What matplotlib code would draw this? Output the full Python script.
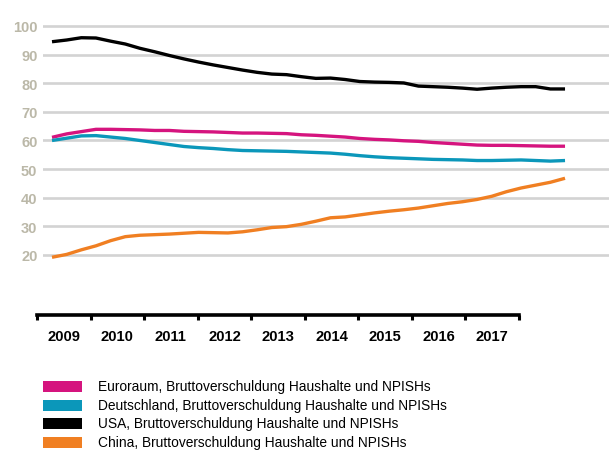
#!/usr/bin/env python3
"""Bruttoverschuldung Haushalte und NPISHs, quarterly lines 2009-2017."""
import matplotlib
matplotlib.use('Agg')
import matplotlib.pyplot as plt
from matplotlib.patches import Rectangle
import numpy as np

plt.rcParams['font.family'] = ['Liberation Sans', 'DejaVu Sans']

W, H = 609, 452

years = list(range(2009, 2018))
# quarterly observations, 2009Q1 .. 2017Q4
euroraum = [61.1, 62.3, 63.1, 63.9, 63.9, 63.8, 63.7, 63.5, 63.5, 63.2, 63.1, 63.0,
            62.8, 62.6, 62.6, 62.5, 62.4, 62.0, 61.8, 61.5, 61.2, 60.7, 60.4, 60.2,
            59.9, 59.7, 59.3, 59.0, 58.7, 58.4, 58.3, 58.3, 58.2, 58.1, 58.0, 58.0]
deutschland = [60.0, 60.8, 61.6, 61.7, 61.2, 60.7, 60.0, 59.3, 58.6, 57.9, 57.5, 57.2,
               56.8, 56.5, 56.4, 56.3, 56.2, 56.0, 55.8, 55.6, 55.2, 54.7, 54.3, 54.0,
               53.8, 53.6, 53.4, 53.3, 53.2, 53.0, 53.0, 53.1, 53.2, 53.0, 52.8, 53.0]
usa = [94.5, 95.1, 95.9, 95.8, 94.7, 93.7, 92.2, 91.0, 89.7, 88.5, 87.4, 86.4,
       85.5, 84.6, 83.8, 83.2, 83.0, 82.3, 81.7, 81.8, 81.3, 80.6, 80.4, 80.3,
       80.1, 79.0, 78.8, 78.6, 78.3, 77.9, 78.3, 78.6, 78.8, 78.8, 78.0, 78.0]
china = [19.2, 20.2, 21.8, 23.2, 25.0, 26.4, 26.9, 27.1, 27.3, 27.6, 27.9, 27.8,
         27.7, 28.1, 28.8, 29.6, 29.9, 30.7, 31.8, 33.0, 33.3, 34.0, 34.7, 35.3,
         35.8, 36.4, 37.2, 38.0, 38.6, 39.4, 40.5, 42.1, 43.4, 44.4, 45.4, 46.8]

labels = [
    'Euroraum, Bruttoverschuldung Haushalte und NPISHs',
    'Deutschland, Bruttoverschuldung Haushalte und NPISHs',
    'USA, Bruttoverschuldung Haushalte und NPISHs',
    'China, Bruttoverschuldung Haushalte und NPISHs',
]
colors = ['#d5147e', '#0b97ba', '#000000', '#f07f22']
series = [euroraum, deutschland, usa, china]
yticks = [20, 30, 40, 50, 60, 70, 80, 90, 100]

fig = plt.figure(figsize=(W / 100, H / 100), dpi=100)

# main plot area (pixel box 43..609 x 18..270)
ax = fig.add_axes([43 / W, (H - 270.3) / H, (W - 43) / W, (270.3 - 18.4) / H])
q = np.arange(len(usa))
ax.set_xlim(-0.614, 38.0)
ax.set_ylim(15, 103)
for v in yticks:
    ax.axhline(v, color='#d3d3d3', lw=1.9, zorder=1)
for s, c in zip(series, colors):
    ax.plot(q, s, color=c, lw=2.4, solid_capstyle='butt', zorder=3)
ax.set_yticks(yticks)
ax.set_yticklabels([str(v) for v in yticks], fontsize=10.5, fontweight='bold',
                   color='#bbb8a8')
ax.tick_params(axis='y', length=0, pad=4)
ax.set_xticks([])
for sp in ax.spines.values():
    sp.set_visible(False)
ax.patch.set_alpha(0)

# year axis
axx = fig.add_axes([37 / W, (H - 316) / H, (519 - 37) / W, 1e-4])
axx.set_xlim(2009, 2018)
axx.set_yticks([])
for k in ['top', 'left', 'right']:
    axx.spines[k].set_visible(False)
axx.spines['bottom'].set_linewidth(2.6)
axx.set_xticks(range(2009, 2019))
axx.set_xticklabels([])
axx.tick_params(axis='x', which='major', length=3.8, width=2.2, direction='out')
axx.set_xticks([y + 0.5 for y in years], minor=True)
axx.set_xticklabels([str(y) for y in years], minor=True, fontsize=10.6,
                    fontweight='bold')
axx.tick_params(axis='x', which='minor', length=0, pad=10)
axx.patch.set_alpha(0)

# legend
rows = [387, 406, 424, 443]
for lab, c, yc in zip(labels, colors, rows):
    fig.add_artist(Rectangle((43 / W, (H - yc - 5.5) / H), 39 / W, 11 / H,
                             transform=fig.transFigure, color=c, lw=0))
    fig.text(98 / W, (H - yc) / H, lab, fontsize=9.95, va='center', ha='left')

fig.savefig('out.png', dpi=100)
